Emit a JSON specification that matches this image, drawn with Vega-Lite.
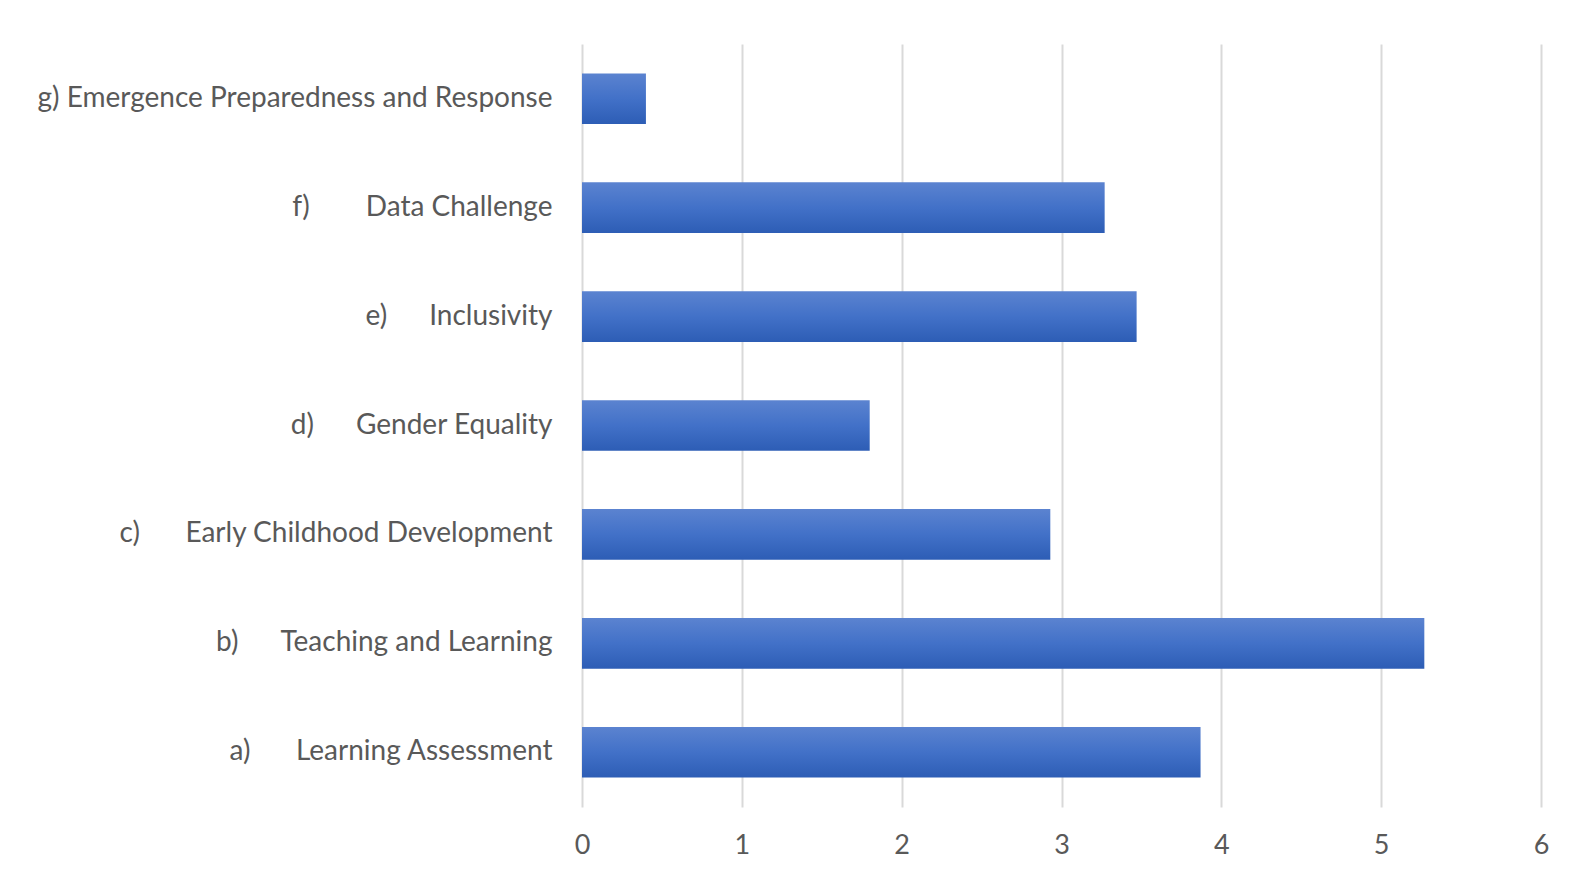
{
  "$schema": "https://vega.github.io/schema/vega-lite/v6.json",
  "autosize": {"type": "none"},
  "width": 959,
  "height": 763,
  "padding": {"left": 582, "top": 44, "right": 43, "bottom": 70},
  "background": "white",
  "data": {
    "values": [
      {"label": "g) Emergence Preparedness and Response", "value": 0.4},
      {"label": "f)\u2003\u2003\u2002Data Challenge", "value": 3.27},
      {"label": "e)\u2003\u2003Inclusivity", "value": 3.47},
      {"label": "d)\u2003\u2003Gender Equality", "value": 1.8},
      {"label": "c)\u2003\u2003\u2009Early Childhood Development", "value": 2.93},
      {"label": "b)\u2003\u2003Teaching and Learning", "value": 5.27},
      {"label": "a)\u2003\u2003\u2009Learning Assessment", "value": 3.87}
    ]
  },
  "mark": {
    "type": "bar",
    "color": {
      "gradient": "linear",
      "x1": 0, "y1": 0, "x2": 0, "y2": 1,
      "stops": [
        {"offset": 0, "color": "#5b83d0"},
        {"offset": 0.5, "color": "#4271c8"},
        {"offset": 1, "color": "#2d5db5"}
      ]
    }
  },
  "encoding": {
    "y": {
      "field": "label",
      "type": "nominal",
      "sort": null,
      "scale": {"paddingInner": 0.535, "paddingOuter": 0.27},
      "axis": {
        "title": null,
        "domain": false,
        "ticks": false,
        "labelPadding": 30,
        "labelFont": "Lato",
        "labelFontSize": 28,
        "labelColor": "#595959",
        "labelLimit": 0
      }
    },
    "x": {
      "field": "value",
      "type": "quantitative",
      "scale": {"domain": [0, 6], "nice": false},
      "axis": {
        "title": null,
        "values": [0, 1, 2, 3, 4, 5, 6],
        "domain": false,
        "ticks": false,
        "grid": true,
        "gridColor": "#d9d9d9",
        "gridWidth": 2,
        "labelPadding": 25,
        "labelFont": "Lato",
        "labelFontSize": 27,
        "labelColor": "#595959",
        "labelFlush": false
      }
    }
  },
  "config": {"view": {"stroke": null}}
}
